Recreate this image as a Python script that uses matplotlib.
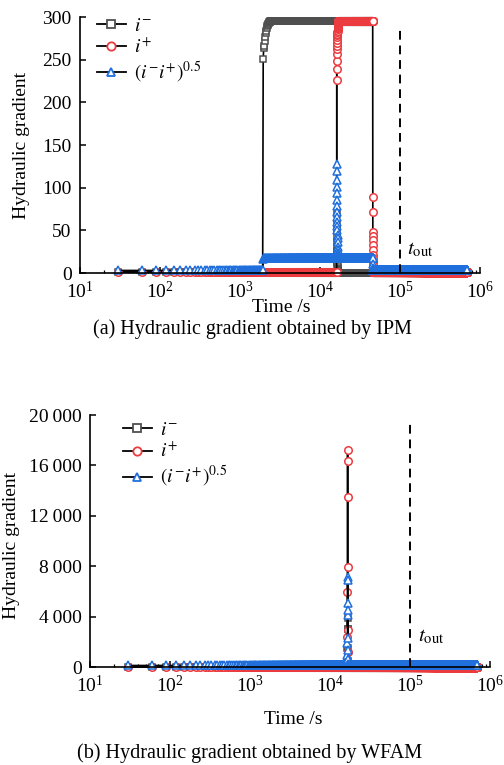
import numpy as np
import matplotlib
matplotlib.use('Agg')
import matplotlib.pyplot as plt
from matplotlib.lines import Line2D
from matplotlib.ticker import FixedLocator, FuncFormatter, LogLocator, LogFormatterMathtext

plt.rcParams['font.family'] = ['Liberation Serif', 'DejaVu Serif']
plt.rcParams['mathtext.fontset'] = 'stix'

# simulation output step (s) and last output time
dt = 30
t_end = 690000

# step-wise series: (start time in s, successive values); last value held until next run
ipm_minus = [
    (30, [1.5]),
    (1950, [251, 264, 266, 272, 277, 281, 284, 287, 289, 290.5, 292, 293, 293.7, 294.2, 294.6, 295]),
    (16200, [69, 58, 49, 42, 36, 31, 26, 22, 18, 15, 12, 10, 8, 6, 5, 4, 3, 2, 1.2, 0.6, 0.3]),
    (45600, [1.5]),
]
ipm_plus = [
    (30, [1.0]),
    (16200, [226, 239, 249, 257, 262, 266, 270, 273, 276, 278.5, 280.5, 282.5, 284, 285.5,
             287, 288, 289, 290, 291, 291.7, 292.3, 292.9, 293.4, 293.8, 294.2, 294.5, 294.8, 295]),
    (45600, [89, 72, 48, 43, 39, 33, 27, 21, 17, 13, 9, 6, 4, 2.5, 1.2]),
]
ipm_root = [
    (30, [3.0]),
    (1950, [16.5, 17.3, 17.6, 17.8, 18]),
    (16200, [128, 119, 109, 101, 94, 86, 78, 72, 66, 60, 55, 50, 45, 41, 36, 31, 27, 24, 22, 20, 19, 18.5, 18]),
    (45600, [18, 10, 6, 4]),
]

wfam_minus = [
    (30, [0]),
    (16500, [500, 1500, 3000, 3900, 3000, 1500, 500, 100, 20, 0]),
]
wfam_plus = [
    (30, [0]),
    (16500, [2400, 5980, 13520, 17220, 16370, 7910, 2940, 1200, 400, 100, 20, 0]),
]
wfam_root = [
    (30, [120]),
    (16500, [950, 1880, 4130, 7170, 6900, 5060, 4520, 2280, 1350, 600, 250, 120]),
]

t_out = 1e5
ipm_yticks = [0, 50, 100, 150, 200, 250, 300]
wfam_yticks = [0, 4000, 8000, 12000, 16000, 20000]

time = np.arange(dt, t_end + dt, dt)


def build(runs):
    y = np.empty(time.size)
    for k, (t0, vals) in enumerate(runs):
        i0 = int(t0 // dt) - 1
        i1 = int(runs[k + 1][0] // dt) - 1 if k + 1 < len(runs) else time.size
        seg = np.full(i1 - i0, float(vals[-1]))
        n = min(len(vals), i1 - i0)
        seg[:n] = vals[:n]
        y[i0:i1] = seg
    return y


c_minus, c_plus, c_root = '#4f4f4f', '#ec3b3f', '#1f6fdc'
styles = [('s', 4.6, c_minus), ('o', 5.4, c_plus), ('^', 5.8, c_root)]
labels = [r'$i^{-}$', r'$i^{+}$', r'$(i^{-}i^{+})^{0.5}$']

fig = plt.figure(figsize=(5.04, 7.65), dpi=100)
W, H = 504, 765


def px_axes(x0, x1, ytop, ybot):
    return fig.add_axes([x0 / W, 1 - ybot / H, (x1 - x0) / W, (ybot - ytop) / H])


def draw_panel(ax, series, ymax, yticks, fmt, tout_top, tout_xy, leg_anchor):
    for y, (mk, ms, col) in zip(series, styles):
        ax.plot(time, y, color='black', lw=1.2, marker=mk, ms=ms, mfc='white',
                mec=col, mew=1.1, clip_on=False)
    ax.plot([t_out, t_out], [0, tout_top], color='black', lw=1.4, ls=(0, (4.5, 3)))
    ax.text(tout_xy[0], tout_xy[1], r'$t_{\mathrm{out}}$', fontsize=15, va='center', ha='left')
    ax.set_xscale('log')
    ax.set_xlim(10, 1e6)
    ax.set_ylim(0, ymax)
    ax.xaxis.set_major_locator(LogLocator(base=10, numticks=10))
    ax.xaxis.set_major_formatter(LogFormatterMathtext())
    ax.xaxis.set_minor_locator(LogLocator(base=10, subs=np.arange(2, 10), numticks=20))
    ax.yaxis.set_major_locator(FixedLocator(yticks))
    ax.yaxis.set_major_formatter(FuncFormatter(fmt))
    for s in ['top', 'right']:
        ax.spines[s].set_visible(False)
    for s in ['left', 'bottom']:
        ax.spines[s].set_linewidth(1.2)
    ax.tick_params(which='major', direction='in', length=4.5, width=1.1, labelsize=14)
    ax.tick_params(axis='x', which='major', pad=6)
    ax.tick_params(axis='y', which='major', pad=6)
    ax.tick_params(which='minor', direction='in', length=2.5, width=0.9)
    handles = [Line2D([], [], color='black', lw=1.3, marker=mk, ms=ms + 0.6, mfc='white',
                      mec=col, mew=1.3) for mk, ms, col in styles]
    ax.legend(handles, labels, loc='upper left', bbox_to_anchor=leg_anchor, frameon=False,
              fontsize=14, handlelength=1.5, handletextpad=0.4, labelspacing=0.15,
              borderaxespad=0, borderpad=0)


def plain(v, pos):
    return f'{v:.0f}'


def spaced(v, pos):
    return f'{v:,.0f}'.replace(',', '\u2009')


ax1 = px_axes(80, 480, 17, 273)
draw_panel(ax1, [build(ipm_minus), build(ipm_plus), build(ipm_root)], 300, ipm_yticks, plain,
           290, (1.22e5, 27), (0.042, 1.0))

ax2 = px_axes(90, 490, 415, 667)
draw_panel(ax2, [build(wfam_minus), build(wfam_plus), build(wfam_root)], 20000, wfam_yticks, spaced,
           19400, (1.26e5, 2400), (0.082, 0.975))

fig.text(22 / W, 1 - 145 / H, 'Hydraulic gradient', rotation=90, fontsize=14, ha='center', va='center')
fig.text(12 / W, 1 - 545 / H, 'Hydraulic gradient', rotation=90, fontsize=14, ha='center', va='center')
fig.text(281 / W, 1 - 307 / H, 'Time /s', fontsize=14, ha='center', va='center')
fig.text(293 / W, 1 - 719 / H, 'Time /s', fontsize=14, ha='center', va='center')
fig.text(252 / W, 1 - 329 / H, '(a) Hydraulic gradient obtained by IPM', fontsize=14.5, ha='center', va='center')
fig.text(250 / W, 1 - 753 / H, '(b) Hydraulic gradient obtained by WFAM', fontsize=14.5, ha='center', va='center')

fig.savefig('out.png', dpi=100)
